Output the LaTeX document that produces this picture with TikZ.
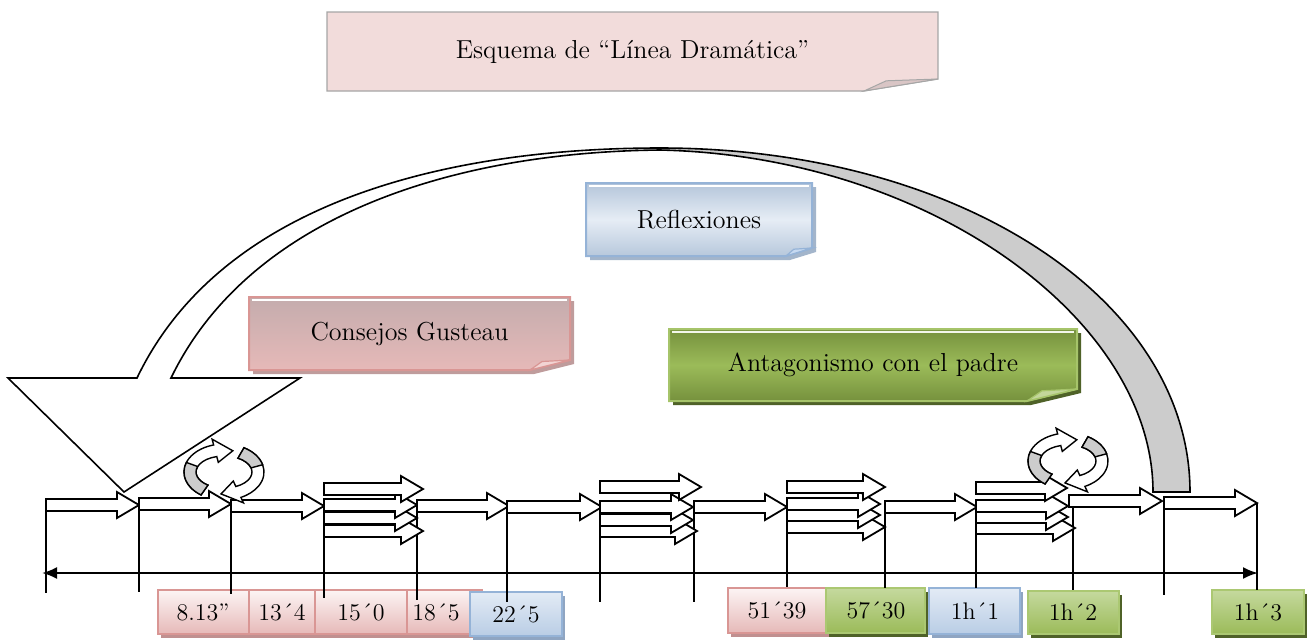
\documentclass[tikz,border=0pt]{standalone}
\usepackage{tikz}
\usetikzlibrary{arrows.meta, calc}

\definecolor{titlepink}{HTML}{F2DCDB}
\definecolor{titleedge}{HTML}{A6A6A6}
\definecolor{titlefold}{HTML}{D9C5C5}
\definecolor{cgtop}{HTML}{C4ACAD}
\definecolor{cgbot}{HTML}{E6B9B8}
\definecolor{cgedge}{HTML}{D99694}
\definecolor{cgshadow}{HTML}{BF9C9C}
\definecolor{cgfold}{HTML}{F2D4D3}
\definecolor{rftop}{HTML}{B4C5DA}
\definecolor{rfmid}{HTML}{E6EDF5}
\definecolor{rfbot}{HTML}{B7C8DC}
\definecolor{rfedge}{HTML}{95B3D7}
\definecolor{rfshadow}{HTML}{A3B5CB}
\definecolor{rffold}{HTML}{C6D9F1}
\definecolor{agtop}{HTML}{76913D}
\definecolor{agmid}{HTML}{9BBB59}
\definecolor{agedge}{HTML}{A6C46A}
\definecolor{agshadow}{HTML}{4F6228}
\definecolor{agfold}{HTML}{C3D69B}
\definecolor{sptop}{HTML}{FCF4F4}
\definecolor{spbot}{HTML}{E6B9B8}
\definecolor{spedge}{HTML}{D99694}
\definecolor{spshadow}{HTML}{C09090}
\definecolor{sgtop}{HTML}{C5D99E}
\definecolor{sgbot}{HTML}{9BBB59}
\definecolor{sgedge}{HTML}{ABC872}
\definecolor{sbtop}{HTML}{E3EBF5}
\definecolor{sbbot}{HTML}{B9CDE5}
\definecolor{sbedge}{HTML}{95B3D7}
\definecolor{sbshadow}{HTML}{8FA5C2}

\tikzset{
  blk/.style={draw=black, fill=white, line width=0.9pt, line join=miter},
  tick/.style={draw=black, line width=0.9pt},
  ring/.style={draw=black, fill=white, line width=0.7pt},
  bigarrow/.style={draw=black, line width=0.8pt},
  notetext/.style={font=\fontsize{13}{15}\selectfont, text=black},
  stamptext/.style={font=\fontsize{12}{14}\selectfont, text=black},
  % sticky notes
  notetitle/.style={top color=titlepink, bottom color=titlepink, draw=titleedge, line width=0.6pt},
  shadowtitle/.style={fill=none},
  hltitle/.style={draw=none},
  foldtitle/.style={fill=titlefold, draw=titleedge, line width=0.5pt},
  notecg/.style={top color=cgtop, bottom color=cgbot, draw=cgedge, line width=1pt},
  shadowcg/.style={fill=cgshadow},
  hlcg/.style={draw=white, line width=1.2pt},
  foldcg/.style={fill=cgfold, draw=cgedge, line width=0.6pt},
  noterf/.style={top color=rftop, bottom color=rfbot, middle color=rfmid, draw=rfedge, line width=1pt},
  shadowrf/.style={fill=rfshadow},
  hlrf/.style={draw=white, line width=1.2pt},
  foldrf/.style={fill=rffold, draw=rfedge, line width=0.6pt},
  noteag/.style={top color=agtop, bottom color=agtop, middle color=agmid, draw=agedge, line width=1pt},
  shadowag/.style={fill=agshadow},
  hlag/.style={draw=white!80!agfold, line width=1.2pt},
  foldag/.style={fill=agfold, draw=agedge, line width=0.6pt},
  % time stamps
  notesp/.style={top color=sptop, bottom color=spbot, draw=spedge, line width=1pt},
  shadowsp/.style={fill=spshadow},
  notesg/.style={top color=sgtop, bottom color=sgbot, draw=sgedge, line width=1pt},
  shadowsg/.style={fill=agshadow},
  notesb/.style={top color=sbtop, bottom color=sbbot, draw=sbedge, line width=1pt},
  shadowsb/.style={fill=sbshadow},
}

% block arrow: x start, x tip, y centre
\newcommand{\barrow}[3]{%
  \filldraw[blk] (#1,#3-6) -- (#2-22,#3-6) -- (#2-22,#3-13) -- (#2,#3)
    -- (#2-22,#3+13) -- (#2-22,#3+6) -- (#1,#3+6) -- cycle;}

% round arrow: centre, shaft from, shaft to, tip, grey from, grey to
\newcommand{\ringarrow}[6]{%
  \filldraw[ring] ($(#1)+(#2:40 and 28)$) arc[start angle=#2, end angle=#3, x radius=40, y radius=28]
    -- ($(#1)+(#3:46 and 34)$) -- ($(#1)+(#4:34 and 22)$) -- ($(#1)+(#3:22 and 10)$)
    -- ($(#1)+(#3:28 and 16)$) arc[start angle=#3, end angle=#2, x radius=28, y radius=16] -- cycle;
  \filldraw[ring, fill=gray!40] ($(#1)+(#5:40 and 28)$) arc[start angle=#5, end angle=#6, x radius=40, y radius=28]
    -- ($(#1)+(#6:28 and 16)$) arc[start angle=#6, end angle=#5, x radius=28, y radius=16] -- cycle;}

% sticky note: name, x1, y1, x2, y2, colour set, fold width, fold height, text
\newcommand{\note}[9]{%
  \fill[shadow#6] (#2+4,#3+4) -- (#4+4,#3+4) -- (#4+4,#5+4-#8) -- (#4+4-#7,#5+4) -- (#2+4,#5+4) -- cycle;
  \shadedraw[note#6] (#2,#3) -- (#4,#3) -- (#4,#5-#8) -- (#4-#7,#5) -- (#2,#5) -- cycle;
  \draw[hl#6] (#2+3,#3+3) -- (#4-3,#3+3);
  \filldraw[fold#6] (#4-#7,#5) -- (#4-0.7*#7,#5-0.85*#8) -- (#4,#5-#8) -- cycle;
  \node[notetext] (#1) at ({(#2+#4)/2},{(#3+#5)/2}) {#9};}

% time stamp: name, x1, y1, x2, y2, colour set, text x, text
\newcommand{\stamp}[8]{%
  \fill[shadow#6] (#2+3,#3+4) rectangle (#4+3,#5+4);
  \shadedraw[note#6] (#2,#3) rectangle (#4,#5);
  \node[stamptext] (#1) at (#7,{(#3+#5)/2}) {#8};}

\begin{document}
\begin{tikzpicture}[x=0.5pt, y=-0.5pt]
\useasboundingbox (0,0) rectangle (1312,639);

        % Big curved arrow
        \filldraw[bigarrow, fill=white] (660,148) .. controls (440,148) and (220,205) .. (137,378)
            -- (8,378) -- (124,492) -- (300,378) -- (171,378)
            .. controls (250,215) and (455,152) .. (660,150) -- cycle;
        \filldraw[bigarrow, fill=gray!40] (660,148) .. controls (960,148) and (1190,300) .. (1190,492)
            -- (1153,492) .. controls (1153,320) and (930,156) .. (660,150) -- cycle;

        % Sticky notes
        \note{title}{327}{12}{938}{91}{title}{74}{12}{Esquema de \char"201C L\'inea Dram\'atica\char"201D}
        \note{reflex}{586}{183}{812}{256}{rf}{26}{8}{Reflexiones}
        \note{consejos}{249}{297}{570}{370}{cg}{40}{10}{Consejos Gusteau}
        \note{antag}{669}{329}{1077}{401}{ag}{50}{12}{Antagonismo con el padre}

        % Time stamps
        \stamp{s1}{158}{590}{249}{634}{sp}{203}{8.13\char"201D}
        \stamp{s2}{249}{590}{315}{634}{sp}{282}{13\char"00B4 4}
        \stamp{s3}{315}{590}{407}{634}{sp}{361}{15\char"00B4 0}
        \stamp{s4}{407}{590}{482}{634}{sp}{436}{18\char"00B4 5}
        \stamp{s5}{470}{592}{562}{636}{sb}{516}{22\char"00B4 5}
        \stamp{s6}{728}{588}{826}{633}{sp}{777}{51\char"00B4 39}
        \stamp{s7}{826}{588}{925}{633}{sg}{876}{57\char"00B4 30}
        \stamp{s8}{929}{588}{1020}{634}{sb}{975}{1h\char"00B4 1}
        \stamp{s9}{1028}{591}{1119}{634}{sg}{1073}{1h\char"00B4 2}
        \stamp{s10}{1212}{590}{1304}{634}{sg}{1258}{1h\char"00B4 3}

        % Ticks and time line
        \foreach \x/\a/\b in {46/500/593, 139/499/592, 231/500/594, 324/500/598, 417/500/600,
                              507/506/602, 600/506/602, 694/506/602, 787/500/587, 885/500/588,
                              976/500/588, 1073/507/590, 1164/498/595, 1257/503/590}
            \draw[tick] (\x,\a) -- (\x,\b);
        \coordinate (start) at (42,573);
        \coordinate (end) at (1258,573);
        \draw[{Latex[length=7.5pt,width=6pt]}-{Latex[length=7.5pt,width=6pt]}, line width=1.1pt] (start) -- (end);

        % Block arrows
        \barrow{46}{139}{505}
        \barrow{139}{231}{504}
        \barrow{231}{324}{506}
        \barrow{324}{423}{531} \barrow{324}{417}{518} \barrow{324}{417}{505} \barrow{324}{423}{489}
        \barrow{417}{509}{506}
        \barrow{507}{602}{507}
        \barrow{600}{697}{531} \barrow{600}{693}{520} \barrow{600}{693}{507} \barrow{600}{701}{487}
        \barrow{694}{787}{507}
        \barrow{787}{885}{527} \barrow{787}{880}{515} \barrow{787}{880}{504} \barrow{787}{885}{487}
        \barrow{885}{977}{507}
        \barrow{976}{1075}{528} \barrow{976}{1068}{517} \barrow{976}{1068}{506} \barrow{976}{1067}{488}
        \barrow{1069}{1162}{501}
        \barrow{1164}{1257}{503}

        % Round arrows
        \coordinate (rot1) at (224,472);
        \coordinate (rot2) at (1068,461);
        \ringarrow{rot1}{300}{425}{455}{300}{345}
        \ringarrow{rot1}{125}{255}{285}{125}{200}
        \ringarrow{rot2}{300}{425}{455}{300}{345}
        \ringarrow{rot2}{125}{255}{285}{125}{200}
\end{tikzpicture}
\end{document}
